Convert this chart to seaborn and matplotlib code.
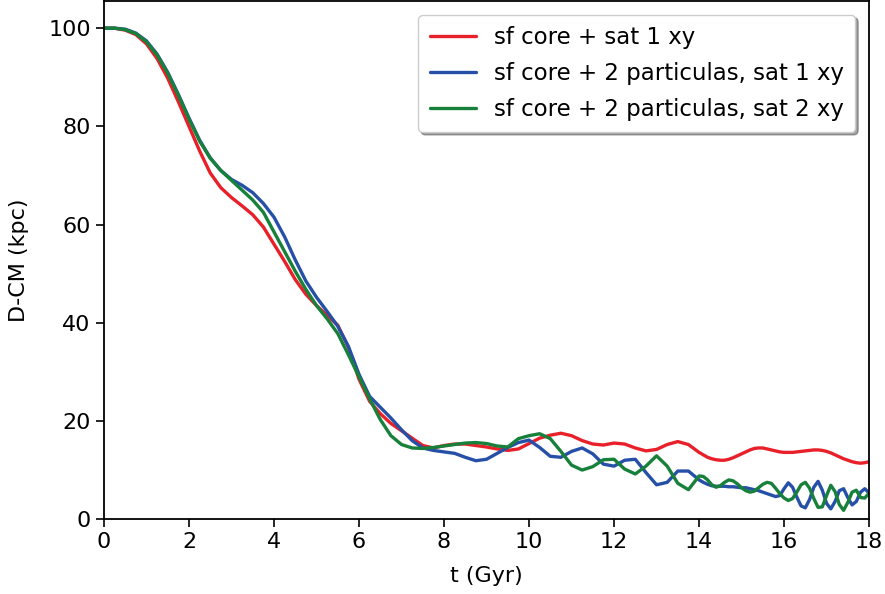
import numpy as np
import pandas as pd
import matplotlib
matplotlib.use("Agg")
import matplotlib.pyplot as plt
import seaborn as sns

# time grid (Gyr): 0.25 steps up to 14, then 0.1 steps to 18
t_coarse = [0.0, 0.25, 0.5, 0.75, 1.0, 1.25, 1.5, 1.75, 2.0, 2.25, 2.5, 2.75,
            3.0, 3.25, 3.5, 3.75, 4.0, 4.25, 4.5, 4.75, 5.0, 5.25, 5.5, 5.75,
            6.0, 6.25, 6.5, 6.75, 7.0, 7.25, 7.5, 7.75, 8.0, 8.25, 8.5, 8.75,
            9.0, 9.25, 9.5, 9.75, 10.0, 10.25, 10.5, 10.75, 11.0, 11.25, 11.5,
            11.75, 12.0, 12.25, 12.5, 12.75, 13.0, 13.25, 13.5, 13.75, 14.0]
t_fine = [14.1, 14.2, 14.3, 14.4, 14.5, 14.6, 14.7, 14.8, 14.9, 15.0,
          15.1, 15.2, 15.3, 15.4, 15.5, 15.6, 15.7, 15.8, 15.9, 16.0,
          16.1, 16.2, 16.3, 16.4, 16.5, 16.6, 16.7, 16.8, 16.9, 17.0,
          17.1, 17.2, 17.3, 17.4, 17.5, 17.6, 17.7, 17.8, 17.9, 18.0]
t_gyr = t_coarse + t_fine

red_sat1 = [100, 100, 99.6, 98.7, 96.8, 93.8, 89.8, 85.0, 80.0, 75.0, 70.5, 67.5,
            65.5, 63.8, 62.0, 59.5, 56.0, 52.5, 48.8, 45.8, 43.5, 41.5, 39.5, 35.0,
            28.5, 24.0, 21.5, 19.5, 18.0, 16.5, 15.0, 14.5, 15.0, 15.3, 15.3, 15.0,
            14.7, 14.3, 14.0, 14.3, 15.4, 16.5, 17.1, 17.5, 17.0, 16.0, 15.3,
            15.1, 15.5, 15.3, 14.5, 13.9, 14.2, 15.2, 15.8, 15.2, 13.6,
            13.1, 12.6, 12.3, 12.1, 12.0, 12.0, 12.2, 12.5, 12.9, 13.3,
            13.7, 14.1, 14.4, 14.5, 14.5, 14.3, 14.1, 13.9, 13.7, 13.6,
            13.6, 13.6, 13.7, 13.8, 13.9, 14.0, 14.1, 14.1, 14.0, 13.8,
            13.5, 13.1, 12.7, 12.3, 12.0, 11.7, 11.5, 11.4, 11.5, 11.7]

blue_2p_sat1 = [100, 100, 99.8, 99.0, 97.4, 94.7, 91.0, 86.5, 81.7, 77.2, 73.6, 71.0,
                69.2, 68.0, 66.5, 64.3, 61.5, 57.5, 52.8, 48.5, 45.2, 42.3, 39.3, 35.2,
                29.5, 25.0, 22.8, 20.6, 18.2, 16.0, 14.5, 14.0, 13.7, 13.4, 12.6, 11.9,
                12.2, 13.4, 14.6, 15.6, 16.1, 14.6, 12.8, 12.6, 13.8, 14.5, 13.3,
                11.2, 10.8, 12.0, 12.2, 9.5, 7.0, 7.5, 9.8, 9.8, 8.0,
                7.5, 7.1, 6.8, 6.7, 6.7, 6.7, 6.6, 6.6, 6.5, 6.4,
                6.4, 6.2, 6.0, 5.8, 5.5, 5.2, 4.9, 4.6, 4.8, 6.2,
                7.4, 6.5, 4.5, 2.7, 2.3, 4.0, 6.5, 7.7, 5.9, 3.2,
                2.1, 3.6, 5.8, 6.2, 4.4, 2.9, 3.6, 5.5, 6.2, 5.3]

green_2p_sat2 = [100, 100, 99.7, 98.9, 97.2, 94.5, 90.8, 86.3, 81.5, 77.0, 73.5, 71.0,
                 69.0, 67.0, 65.0, 62.5, 58.5, 54.5, 50.5, 46.8, 43.5, 40.8, 37.8, 33.5,
                 29.0, 24.5, 20.3, 17.0, 15.2, 14.5, 14.4, 14.6, 14.9, 15.2, 15.5, 15.6,
                 15.4, 14.9, 14.7, 16.4, 17.0, 17.4, 16.4, 13.8, 11.0, 10.0, 10.7,
                 12.1, 12.2, 10.2, 9.2, 10.8, 12.9, 10.8, 7.3, 6.0, 8.8,
                 8.7, 8.0, 7.0, 6.5, 6.8, 7.5, 8.0, 7.8, 7.2, 6.4,
                 5.8, 5.5, 5.7, 6.4, 7.1, 7.5, 7.3, 6.3, 5.2, 4.3,
                 3.8, 4.2, 5.5, 7.0, 7.5, 6.3, 4.2, 2.4, 2.5, 4.8,
                 6.9, 5.6, 3.0, 1.8, 3.4, 5.5, 5.9, 4.4, 4.3, 5.3]

labels = ["sf core + sat 1 xy",
          "sf core + 2 particulas, sat 1 xy",
          "sf core + 2 particulas, sat 2 xy"]
colors = ["#e8202a", "#2650a8", "#17803a"]

df = pd.concat([
    pd.DataFrame({"t": t_gyr, "d": red_sat1, "run": labels[0]}),
    pd.DataFrame({"t": t_gyr, "d": blue_2p_sat1, "run": labels[1]}),
    pd.DataFrame({"t": t_gyr, "d": green_2p_sat2, "run": labels[2]}),
])

sns.set_style("ticks")
plt.rcParams["font.family"] = ["DejaVu Sans"]
plt.rcParams["text.color"] = "black"
plt.rcParams["axes.labelcolor"] = "black"
plt.rcParams["xtick.color"] = "black"
plt.rcParams["ytick.color"] = "black"

fig = plt.figure(figsize=(8.85, 5.94), dpi=100)
ax = fig.add_axes([0.1175, 0.126, 0.8645, 0.872])

sns.lineplot(data=df, x="t", y="d", hue="run", palette=colors,
             hue_order=labels, linewidth=2.4, ax=ax, legend=False)

for lab, col in zip(labels, colors):
    ax.plot([], [], color=col, lw=2.4, label=lab)
ax.legend(loc="upper right", fontsize=16.5, shadow=True, frameon=True,
          handlelength=2.0, borderaxespad=0.6, labelspacing=0.55,
          borderpad=0.5)

ax.set_xlim(0, 18)
ax.set_ylim(0, 105.5)
ax.set_xticks(range(0, 19, 2))
ax.set_yticks([0, 20, 40, 60, 80, 100])
ax.set_xlabel("t (Gyr)", fontsize=16, labelpad=10)
ax.set_ylabel("D-CM (kpc)", fontsize=16, labelpad=14)
ax.tick_params(labelsize=16, length=6, width=1.2, colors="black")
for s in ax.spines.values():
    s.set_visible(True)
    s.set_linewidth(1.3)
    s.set_color("black")

fig.savefig("out.png", dpi=100)
